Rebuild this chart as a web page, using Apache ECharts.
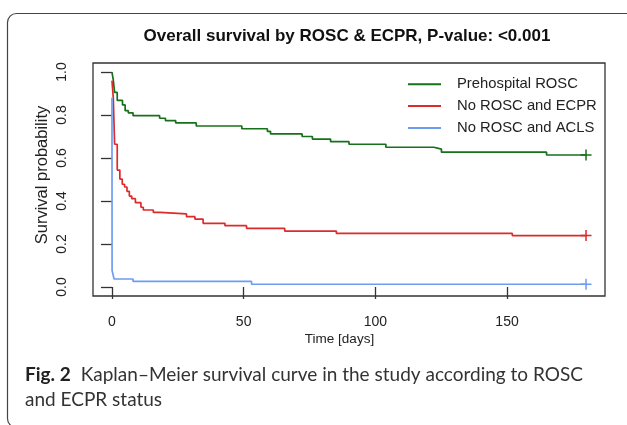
<!DOCTYPE html>
<html><head><meta charset="utf-8">
<script src="https://cdn.jsdelivr.net/npm/echarts@6/dist/echarts.min.js"></script>
<style>html,body{margin:0;padding:0;background:#fff}#c{width:627px;height:425px}</style>
</head><body><div id="c"></div>
<script>
// ---- data ----
const seriesNames = ['Prehospital ROSC', 'No ROSC and ECPR', 'No ROSC and ACLS'];
const greenT = [0, 0.5, 1, 2, 4, 5, 6.2, 8, 18.1, 20.3, 24.2, 32, 49.3, 59, 60.2, 72.2, 76.1, 83, 90, 104, 122.2, 125.1, 165, 180];
const greenS = [1.0, 0.963, 0.905, 0.868, 0.847, 0.82, 0.81, 0.797, 0.785, 0.774, 0.763, 0.749, 0.736, 0.724, 0.712, 0.70, 0.688, 0.676, 0.664, 0.65, 0.641, 0.627, 0.614, 0.614];
const redT = [0, 0.5, 1, 2, 3, 3.9, 4.8, 5.7, 6.6, 7.5, 8.9, 11, 11.9, 15.7, 18.2, 28.3, 31.5, 34.6, 42.9, 51.1, 65.6, 85.2, 152, 180];
const redS = [0.96, 0.881, 0.664, 0.544, 0.502, 0.478, 0.465, 0.445, 0.423, 0.411, 0.392, 0.371, 0.358, 0.347, 0.34, 0.327, 0.316, 0.296, 0.285, 0.273, 0.26, 0.249, 0.239, 0.239];
const blueT = [0, 0.05, 0.8, 8, 53, 180];
const blueS = [0.88, 0.076, 0.037, 0.026, 0.0126, 0.0126];
const censorTime = 180;
const xTicks = [0, 50, 100, 150];
const yTicks = [0, 0.2, 0.4, 0.6, 0.8, 1.0];
const colors = ['#17701a', '#dc2b2b', '#6d9df0'];
const titleText = 'Overall survival by ROSC & ECPR, P-value: <0.001';
const xName = 'Time [days]';
const yName = 'Survival probability';
const captionBold = 'Fig. 2';
const captionLine1 = 'Kaplan–Meier survival curve in the study according to ROSC';
const captionLine2 = 'and ECPR status';

const groups = [[greenT, greenS], [redT, redS], [blueT, blueS]];
const zip = (t, s) => t.map((v, i) => [v, s[i]]);
const sans = '"Liberation Sans", Arial, Helvetica, sans-serif';
const plusPath = 'path://M5,0L5,10M0,5L10,5';

const series = [];
groups.forEach((g, i) => {
  series.push({
    name: seriesNames[i], type: 'line', step: 'end', data: zip(g[0], g[1]),
    symbol: 'none', lineStyle: { color: colors[i], width: 1.7 }, itemStyle: { color: colors[i] },
    animation: false, z: 3
  });
});
groups.forEach((g, i) => {
  series.push({
    type: 'scatter', data: [[censorTime, g[1][g[1].length - 1]]],
    symbol: plusPath, symbolSize: 11,
    itemStyle: { color: 'transparent', borderColor: colors[i], borderWidth: 1.5, opacity: 1 },
    animation: false, silent: true, z: 4
  });
});

const chart = echarts.init(document.getElementById('c'), null, { renderer: 'canvas' });
chart.setOption({
  backgroundColor: '#fff',
  animation: false,
  title: [
    { text: titleText, left: 347, top: 28, textAlign: 'center', padding: 0,
      textStyle: { fontFamily: sans, fontWeight: 'bold', fontSize: 17, lineHeight: 17, color: '#111' } },
    { text: '{b|' + captionBold + '}  {r|' + captionLine1 + '}\n{r|' + captionLine2 + '}',
      left: 25, top: 362, padding: 0,
      textStyle: { fontWeight: 'normal', rich: {
        b: { fontFamily: 'Lato', fontWeight: 'bold', fontSize: 19, lineHeight: 25, color: '#222' },
        r: { fontFamily: 'Lato', fontWeight: 'normal', fontSize: 19, lineHeight: 25, color: '#333' } } } }
  ],
  legend: {
    orient: 'vertical', left: 408, top: 75.3, padding: 0, data: seriesNames,
    icon: 'rect', itemWidth: 33, itemHeight: 2, itemGap: 3.8,
    textStyle: { fontFamily: sans, fontSize: 14.8, lineHeight: 18, color: '#222', padding: [0, 0, 0, 11] }
  },
  grid: { left: 93, top: 63, width: 512, height: 233, show: true, borderColor: '#333', borderWidth: 1.3, backgroundColor: 'transparent' },
  xAxis: {
    type: 'value', min: -7.2, max: 187.2,
    name: xName, nameLocation: 'middle', nameGap: 36, nameMoveOverlap: false,
    nameTextStyle: { fontFamily: sans, fontSize: 13.5, lineHeight: 14, color: '#222', padding: [0, 19, 0, 0] },
    axisLine: { show: false },
    splitLine: { show: false },
    axisTick: { show: true, inside: false, length: 12, customValues: xTicks, lineStyle: { color: '#333', width: 1.3 } },
    axisLabel: { customValues: xTicks, margin: 19, fontFamily: sans, fontSize: 14, lineHeight: 14, color: '#222' }
  },
  yAxis: {
    type: 'value', min: -0.042, max: 1.042,
    name: yName, nameLocation: 'middle', nameGap: 42, nameMoveOverlap: false,
    nameTextStyle: { fontFamily: sans, fontSize: 16.5, color: '#222', padding: [0, 0, 0, 9] },
    axisLine: { show: false },
    splitLine: { show: false },
    axisTick: { show: true, inside: false, length: 11, customValues: yTicks, lineStyle: { color: '#333', width: 1.3 } },
    axisLabel: { customValues: yTicks, rotate: 90, margin: 24, fontFamily: sans, fontSize: 14, color: '#222',
      formatter: v => v.toFixed(1) }
  },
  graphic: [{
    type: 'rect', silent: true, z: -1,
    shape: { x: 7.5, y: 13.5, width: 650, height: 414, r: 9 },
    style: { fill: 'none', stroke: '#444', lineWidth: 1.2 }
  }],
  series: series
});
</script></body></html>
